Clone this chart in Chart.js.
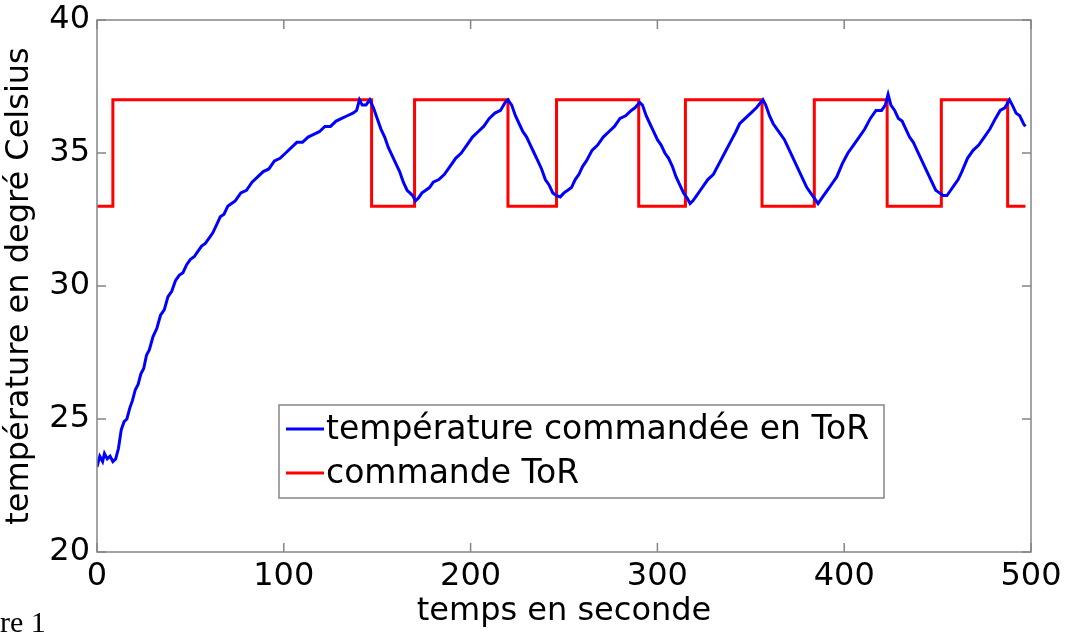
<!DOCTYPE html>
<html>
<head>
<meta charset="utf-8">
<script src="https://cdn.jsdelivr.net/npm/chart.js@4"></script>
<style>
  body { margin: 0; background: #fff; }
  #wrap { position: relative; width: 1069px; height: 634px; }
  #note { position: absolute; left: 0; top: 605px; font: 30px "Liberation Serif", serif; color: #000; }
</style>
</head>
<body>
<div id="wrap">
  <canvas id="myChart"></canvas>
  <div id="note">re 1</div>
</div>
<script>
// temps (s) et température mesurée
var tempsT = [0, 1.5, 3, 4, 5.5, 7, 8.5, 10, 11.5, 13, 14.5, 16, 17.5, 19, 20.5, 22, 23.5, 25, 26.5, 28,
  30, 32, 34, 36, 38, 40, 42, 44, 46, 48, 50, 52, 54, 56, 58, 60, 62, 64, 66, 68, 70, 72, 74, 77, 80,
  83, 86, 89, 92, 95, 98, 101, 104, 107, 110, 113, 116, 119, 122, 125, 128, 131, 134, 137, 139, 140.5,
  142, 144, 146,
  148, 150, 152, 154, 156, 158, 160, 162, 164, 166, 167.5, 169, 170.5, 172,
  174, 176, 178, 180, 183, 186, 189, 192, 195, 198, 201, 204, 207, 210, 213, 216, 218.5, 220,
  222, 224, 226, 228, 230, 232, 234, 236, 238, 240, 242, 244, 246, 248,
  250, 252, 254, 256, 258, 260, 262, 265, 268, 271, 274, 277, 280, 283, 286, 288, 290.5,
  292, 294, 296, 298, 300, 302, 304, 306, 308, 310, 312, 314, 316, 317.5,
  319, 321, 323, 325, 327, 330, 333, 336, 339, 342, 344, 347, 350, 353, 356.5,
  358, 360, 362, 364, 366, 368, 370, 372, 374, 376, 378, 380, 382, 384, 386,
  388, 390, 392, 394, 396, 399, 402, 405, 408, 411, 414, 417, 420, 422, 423.5,
  425, 427, 429, 431, 433, 435, 437, 439, 441, 443, 445, 447, 449, 451, 453, 455,
  457, 459, 461, 463, 466, 469, 472, 475, 478, 481, 483.5, 486, 488.5, 490, 492, 494, 496, 497];
var temperature = [23.2, 23.6, 23.4, 23.7, 23.5, 23.6, 23.4, 23.5, 23.9, 24.6, 24.9, 25.0, 25.4, 25.7, 26.1, 26.3, 26.7, 26.9, 27.4, 27.6,
  28.1, 28.4, 28.9, 29.1, 29.6, 29.8, 30.2, 30.4, 30.5, 30.8, 31.0, 31.1, 31.3, 31.5, 31.6, 31.8, 32.0, 32.3, 32.6, 32.7, 33.0, 33.1, 33.2, 33.5, 33.6,
  33.9, 34.1, 34.3, 34.4, 34.7, 34.8, 35.0, 35.2, 35.4, 35.4, 35.6, 35.7, 35.8, 36.0, 36.0, 36.2, 36.3, 36.4, 36.5, 36.6, 37.0,
  36.8, 36.8, 37.0,
  36.7, 36.3, 35.9, 35.6, 35.2, 34.9, 34.6, 34.3, 33.9, 33.6, 33.5, 33.4, 33.2, 33.3,
  33.5, 33.6, 33.7, 33.9, 34.0, 34.2, 34.5, 34.8, 35.0, 35.3, 35.6, 35.8, 36.0, 36.3, 36.5, 36.6, 36.9, 37.0,
  36.8, 36.4, 36.1, 35.8, 35.6, 35.3, 35.0, 34.7, 34.4, 34.0, 33.8, 33.5, 33.4, 33.35,
  33.5, 33.6, 33.7, 34.0, 34.2, 34.5, 34.7, 35.1, 35.3, 35.6, 35.8, 36.0, 36.3, 36.4, 36.6, 36.7, 36.9,
  36.8, 36.4, 36.1, 35.8, 35.5, 35.3, 35.0, 34.8, 34.5, 34.1, 33.8, 33.5, 33.3, 33.1,
  33.2, 33.4, 33.6, 33.8, 34.0, 34.2, 34.6, 35.0, 35.4, 35.8, 36.1, 36.3, 36.5, 36.7, 37.0,
  36.8, 36.4, 36.1, 35.9, 35.7, 35.5, 35.2, 34.9, 34.6, 34.3, 34.0, 33.7, 33.5, 33.3, 33.1,
  33.3, 33.5, 33.7, 33.9, 34.1, 34.6, 35.0, 35.3, 35.6, 35.9, 36.3, 36.6, 36.6, 36.8, 37.2,
  36.8, 36.6, 36.3, 36.2, 35.9, 35.6, 35.4, 35.1, 34.8, 34.5, 34.2, 33.9, 33.6, 33.5, 33.4, 33.4,
  33.6, 33.8, 34.0, 34.3, 34.8, 35.1, 35.3, 35.6, 35.9, 36.3, 36.6, 36.7, 37.0, 36.8, 36.5, 36.4, 36.1, 36.0];

// commande ToR : instants de commutation et niveau après commutation
var commandeT = [0, 8.5, 147, 170, 220, 246, 290, 315, 356, 384, 423, 452, 487.5, 497];
var commandeV = [33, 37, 33, 37, 33, 37, 33, 37, 33, 37, 33, 37, 33, 33];

var xTicks = [0, 100, 200, 300, 400, 500];
var yTicks = [20, 25, 30, 35, 40];
var labels = ['température commandée en ToR', 'commande ToR'];

var police = '"DejaVu Sans", sans-serif';
var gris = '#858585';

// cadre matlab + graduations vers l'intérieur
var cadre = {
    id: 'cadre',
    afterDatasetsDraw: function(chart) {
        var c = chart.ctx, a = chart.chartArea;
        var sx = chart.scales.x, sy = chart.scales.y;
        c.save();
        c.strokeStyle = gris;
        c.lineWidth = 1.5;
        c.strokeRect(a.left, a.top, a.right - a.left, a.bottom - a.top);
        c.beginPath();
        xTicks.forEach(function(v) {
            var px = sx.getPixelForValue(v);
            c.moveTo(px, a.bottom); c.lineTo(px, a.bottom - 9);
            c.moveTo(px, a.top); c.lineTo(px, a.top + 9);
        });
        yTicks.forEach(function(v) {
            var py = sy.getPixelForValue(v);
            c.moveTo(a.left, py); c.lineTo(a.left + 9, py);
            c.moveTo(a.right, py); c.lineTo(a.right - 9, py);
        });
        c.stroke();

        // légende
        var bx = 279, by = 405, bw = 605, bh = 93;
        c.fillStyle = '#fff';
        c.fillRect(bx, by, bw, bh);
        c.strokeRect(bx, by, bw, bh);
        c.font = '33px ' + police;
        c.textBaseline = 'middle';
        chart.data.datasets.forEach(function(ds, i) {
            var ly = [429, 473][i];
            c.strokeStyle = ds.borderColor;
            c.lineWidth = 3;
            c.beginPath();
            c.moveTo(286, ly); c.lineTo(324, ly);
            c.stroke();
            c.fillStyle = '#000';
            c.fillText(ds.label, 326, ly + 1);
        });
        c.restore();
    }
};

var ctx = document.getElementById('myChart').getContext('2d');
var myChart = new Chart(ctx, {
    type: 'line',
    data: {
        datasets: [{
            label: labels[0],
            data: tempsT.map(function(t, i) { return { x: t, y: temperature[i] }; }),
            borderColor: '#0000ff',
            borderWidth: 3,
            pointRadius: 0,
            tension: 0
        }, {
            label: labels[1],
            data: commandeT.map(function(t, i) { return { x: t, y: commandeV[i] }; }),
            borderColor: '#ff0000',
            borderWidth: 3,
            pointRadius: 0,
            stepped: true
        }]
    },
    options: {
        responsive: true,
        maintainAspectRatio: false,
        animation: false,
        layout: { padding: { top: 20, right: 38, left: 0, bottom: 0 } },
        plugins: { legend: { display: false }, tooltip: { enabled: false } },
        scales: {
            x: {
                type: 'linear',
                min: 0, max: 500,
                afterBuildTicks: function(s) { s.ticks = xTicks.map(function(v) { return { value: v }; }); },
                afterFit: function(s) { s.height = 82; },
                grid: { display: false, drawTicks: false },
                border: { display: false },
                ticks: { color: '#000', padding: 5, maxRotation: 0, font: { family: police, size: 32 } },
                title: { display: true, text: 'temps en seconde', color: '#000', padding: { top: 0, bottom: 3 }, font: { family: police, size: 32 } }
            },
            y: {
                min: 20, max: 40,
                afterBuildTicks: function(s) { s.ticks = yTicks.map(function(v) { return { value: v }; }); },
                afterFit: function(s) { s.width = 97; s.paddingTop = 0; s.paddingBottom = 0; },
                grid: { display: false, drawTicks: false },
                border: { display: false },
                ticks: { color: '#000', padding: 7, font: { family: police, size: 32 } },
                title: { display: true, text: 'température en degré Celsius', color: '#000', padding: { top: 0, bottom: 0 }, font: { family: police, size: 32 } }
            }
        }
    },
    plugins: [cadre]
});
</script>
</body>
</html>
